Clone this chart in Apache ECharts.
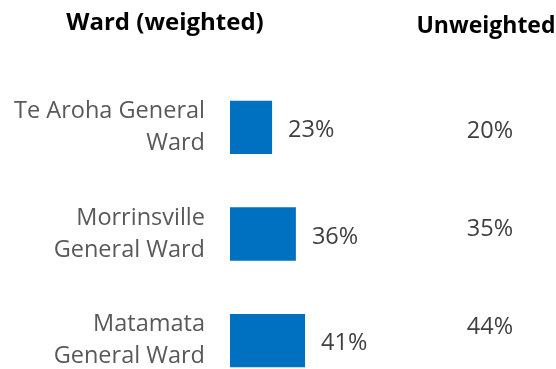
<!DOCTYPE html>
<html>
<head>
<meta charset="utf-8">
<script src="https://cdn.jsdelivr.net/npm/echarts@6/dist/echarts.min.js"></script>
<style>
  html, body { margin: 0; padding: 0; background: #ffffff; }
  #chart { width: 556px; height: 369px; }
</style>
</head>
<body>
<div id="chart"></div>
<script>
// Ward breakdown: weighted share shown as bars, unweighted share as a text column
const categories = ['Te Aroha General Ward', 'Morrinsville General Ward', 'Matamata General Ward'];
const categoryLabels = ['Te Aroha General\nWard', 'Morrinsville\nGeneral Ward', 'Matamata\nGeneral Ward'];
const weighted = [23, 36, 41];
const unweighted = [20, 35, 44];
const headers = ['Ward (weighted)', 'Unweighted'];

const FONT = '"Open Sans", "Noto Sans", sans-serif';

const chart = echarts.init(document.getElementById('chart'), null, { renderer: 'canvas' });

chart.setOption({
  animation: false,
  backgroundColor: '#ffffff',
  title: [
    {
      text: headers[0], left: 160, top: 6, textAlign: 'center',
      textStyle: { fontFamily: FONT, fontWeight: 'bold', fontSize: 24, color: '#000000' }
    },
    {
      text: headers[1], left: 481, top: 10, textAlign: 'center',
      textStyle: { fontFamily: FONT, fontWeight: 'bold', fontSize: 23, color: '#000000' }
    }
  ],
  grid: [
    { left: 230, width: 183, top: 74, height: 320, outerBoundsMode: 'none' },
    { left: 440, width: 100, top: 82, height: 294, outerBoundsMode: 'none' }
  ],
  xAxis: [
    { gridIndex: 0, type: 'value', min: 0, max: 100, show: false },
    { gridIndex: 1, type: 'category', data: [headers[1]], show: false }
  ],
  yAxis: [
    {
      gridIndex: 0, type: 'category', data: categories, inverse: true,
      axisLine: { show: false }, axisTick: { show: false }, splitLine: { show: false },
      axisLabel: {
        margin: 25, fontFamily: FONT, fontSize: 23.5, color: '#595959', lineHeight: 32, align: 'right',
        formatter: (v, i) => categoryLabels[i]
      }
    },
    { gridIndex: 1, type: 'category', data: categories, inverse: true, show: false }
  ],
  series: [
    {
      type: 'bar', xAxisIndex: 0, yAxisIndex: 0,
      data: weighted, barWidth: '50%',
      itemStyle: { color: '#0070C0' },
      label: {
        show: true, position: 'right', distance: 16, offset: [0, 3],
        fontFamily: FONT, fontSize: 23.5, color: '#404040',
        formatter: p => p.value + '%'
      }
    },
    {
      type: 'scatter', xAxisIndex: 1, yAxisIndex: 1,
      data: unweighted.map((v, i) => [headers[1], categories[i], v]),
      symbolSize: 1, itemStyle: { color: 'rgba(0,0,0,0)', opacity: 1 },
      label: {
        show: true, position: 'inside', textBorderWidth: 0,
        fontFamily: FONT, fontSize: 23.5, color: '#404040',
        formatter: p => p.value[2] + '%'
      }
    }
  ]
});
</script>
</body>
</html>
